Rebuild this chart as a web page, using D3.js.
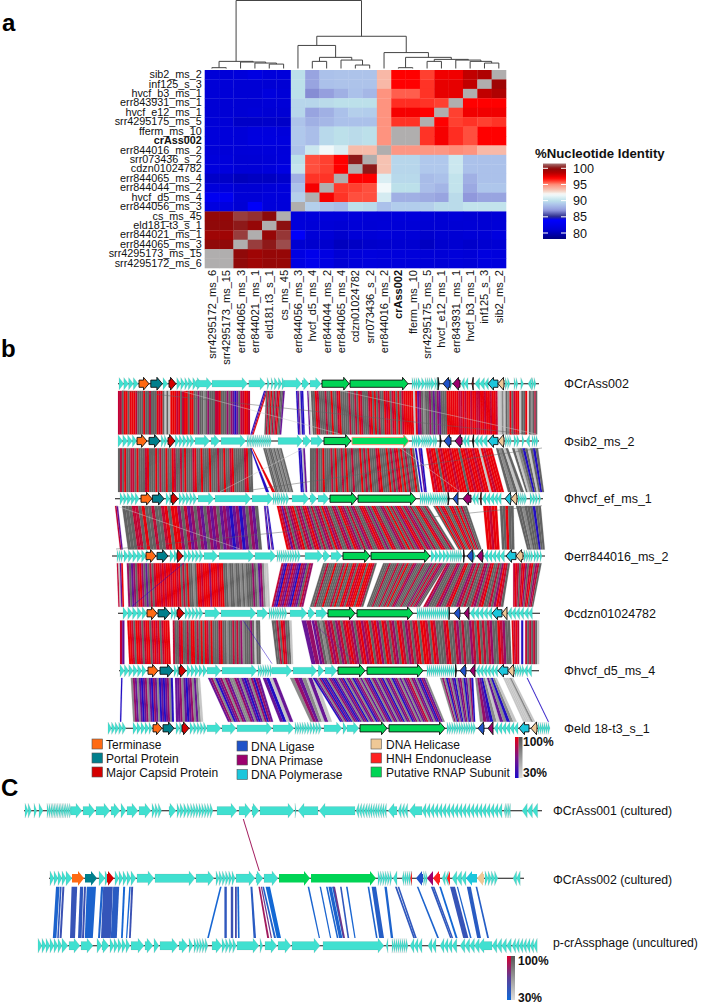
<!DOCTYPE html>
<html><head><meta charset="utf-8">
<script src="https://cdn.jsdelivr.net/npm/d3@7"></script>
<style>html,body{margin:0;padding:0;background:#fff}svg{display:block;font-family:"Liberation Sans",Arial,sans-serif}</style>
</head><body><svg id="c" width="709" height="1004"></svg>
<script>
// ---------- panel a data ----------
const rowLabels=["sib2_ms_2","inf125_s_3","hvcf_b3_ms_1","err843931_ms_1","hvcf_e12_ms_1","srr4295175_ms_5","fferm_ms_10","crAss002","err844016_ms_2","srr073436_s_2","cdzn01024782","err844065_ms_4","err844044_ms_2","hvcf_d5_ms_4","err844056_ms_3","cs_ms_45","eld181-t3_s_1","err844021_ms_1","err844065_ms_3","srr4295173_ms_15","srr4295172_ms_6"];
const colLabels=["srr4295172_ms_6","srr4295173_ms_15","err844065_ms_3","err844021_ms_1","eld181.t3_s_1","cs_ms_45","err844056_ms_3","hvcf_d5_ms_4","err844044_ms_2","err844065_ms_4","cdzn01024782","srr073436_s_2","err844016_ms_2","crAss002","fferm_ms_10","srr4295175_ms_5","hvcf_e12_ms_1","err843931_ms_1","hvcf_b3_ms_1","inf125_s_3","sib2_ms_2"];
const N=null;
const identity=[
[81.3,81.3,81.5,82,81.5,81.5, 90,87.5,88.7,88.8,88.8,88.8,93.7,97,97,96,97.3,97.3,98.3,98.8,N],
[81.2,81.2,81.1,81.1,81,81, 90,87.5,88.7,88.8,88.8,88.8,93.7,97,97,96.2,97.5,97.5,98.3,N,99.3],
[81.2,81.2,81.1,81.1,81.6,81.2, 90,86.8,87.3,88,88.7,88.3,94.8,95.6,95.6,96.2,97.5,97.5,N,98.3,98.8],
[81.1,81.1,81,81,81.2,81.2, 89.6,89.6,89.8,90,90,90,94.8,96.3,96.3,96.2,96,N,97,97,97],
[81.1,81.1,81,81.2,81,81, 89.6,87.5,88,88.7,89.3,89.2,94.8,97.2,97.2,97,N,96,97.3,97.3,97.3],
[81.2,81.2,80.6,80.6,80.7,80.6, 88.8,88,88.3,88.7,88.7,88.7,94.8,96.2,96.2,N,97,96,96.2,96,96.2],
[81.4,81.4,81.3,81.7,81.7,81.5, 89,88.6,89.7,90,89.8,90,94.8,N,N,96.2,97.2,96.3,95.8,97,97],
[81.4,81.4,81.3,81.8,81.8,81.7, 89,88.6,89.7,90,89.8,90,94.8,N,N,96.2,97.2,96.3,95.8,97,97],
[81.3,81.3,81.2,81.3,81.4,81.4, 88.8,90.5,91.8,91,93.6,93.6,N,94.7,94.7,94.7,94.7,95,94.8,93.7,93.7],
[81.5,81.5,81,81.1,81.2,81.5, 90,95.8,96,97,100.2,N,93.4,89.6,89.6,89,89,90.5,88.7,88.7,88.7],
[81.6,81.6,81.2,81.2,81.5,82, 90.3,95.8,96,97,N,100.2,93.4,89.6,89.6,89,89,90.5,88.7,88.7,88.7],
[80.6,80.6,80.2,80.4,80.4,80.7, 88,96.2,96.2,N,97,97,91,89.7,89.7,88.5,88.7,90.2,88,88.7,88.7],
[81.5,81.5,81,81,81.3,81.5, 88.7,97.2,N,96.1,96,95.8,91.8,90,90,88.6,88.2,90.2,87.7,88.9,88.9],
[83,83,81.2,81.2,81.5,81.5, 89.3,N,97.2,96.2,95.8,95.8,90.8,88,88,87.8,87.5,89.8,87,87.5,87.5],
[81.8,81.8,81,83.6,81.4,81.4, N,89.3,88.8,88.5,90,89.8,88.7,89.2,89.2,89.3,89.8,89.8,90.2,90.2,90.2],
[99.7,99.7,100.7,100.5,100,N, 81.4,81.5,81.5,81.4,81.4,81.3,81.2,81.5,81.5,81.2,81.1,81.3,81,81,81.2],
[99.8,99.8,100.2,99.6,N,100.1, 81.4,81.2,81.2,81,81.2,81.1,81.2,81.2,81.2,81,81,81,81.1,81,81.2],
[99.3,99.3,100.7,N,99.6,100.6, 83.5,81.2,81.2,80.8,81.2,81.2,81.4,81.3,81.3,80.8,81,81,81.2,81.2,81.8],
[99.8,99.8,N,100.7,100.2,100.9, 80.9,80.8,80.8,80.3,80.5,80.7,80.8,80.9,80.9,80.4,80.8,80.9,80.7,80.9,81],
[N,N,99.8,99.3,99.6,99.6, 82,82.6,82,81,81.4,81.6,81.5,81.5,81.5,81.2,81.2,81.4,81.2,81.8,81.6],
[N,N,99.8,99.3,99.6,99.6, 82,82.6,82,81,81.4,81.6,81.5,81.5,81.5,81.2,81.2,81.4,81.2,81.8,81.6]];
const identityStops=[78,81,84,85,87,89,90,92,93,95,96,97,98.5,100,101.5];
const identityColours=["#00007a","#0000d4","#0000ff","#2a2a8a","#9098dc","#b0c8ec","#bce0ea","#f8fcfc","#f4d0c0","#ff8c78","#ff4030","#ff0000","#b80000","#8a0a0a","#a87878"];
const legendTicks=[100,95,90,85,80];
// cluster tree: [height, left, right]; plain numbers are column indices
const dendrogram=[100,
 [10.5,[1.2,0,1],[9.5,2,[8,3,[6.5,4,5]]]],
 [47.4,
  [33.9,6,[16.4,[10.5,7,8],[12.4,9,[5.1,10,11]]]],
  [23.4,12,[16.4,[1.2,13,14],[13.4,[10.5,15,16],[12.4,17,[10.5,18,[8,19,20]]]]]]]];

// ---------- panel b data: positions in kb ----------
// gene runs: [start,[signed lengths]] (negative = reverse strand)
const trackNames=["ΦCrAss002","Φsib2_ms_2","Φhvcf_ef_ms_1","Φerr844016_ms_2","Φcdzn01024782","Φhvcf_d5_ms_4","Φeld 18-t3_s_1"];
const spines=[[29.5,134.75],[29.5,134.75],[28.75,135.75],[28,136.25],[29.5,135],[29.75,134.75],[27,137.5]];
const runs1=[[29.75,[1.2,1.2,1.2,1.2]],[40.75,[1.2]],[44.2,[1,1,.9,1.1,1.1,1.2]],[49,[4]],[53,[8.9]],[62.2,[4.2]],[66.8,[.6]],[67.8,[.6]],[68.6,[1,.9,.9]],[71,[4.4]],[75.5,[1.8]],[77.5,[2.8]],[103,[.5,.5,.5,.9,.9,.5,.5,.5,.9,.5,.5]],[112.5,[.5]],[115.2,[-.9,-.9]],[118.7,[-1.2,-1.2,-1]],[126.3,[.6,.6]],[128.5,[.5,.5]],[130.2,[.7]],[132,[-.9]],[133,[.5,.5]]];
const genes1=[[34.75,37.25,"T"],[37.7,40.6,"P"],[42.25,44,"M"],[80.5,87.3,"G"],[87.5,102,"G"],[109.5,109.8,"X"],[112.5,110.75,"L"],[115,113.25,"R"],[118.3,118,"H"],[124.5,122,"Y"],[126,124.5,"K"]];
const runs2=[[29.5,[1.2,1.2,1.2,1.1]],[40.3,[.8,.7]],[43.8,[1,.9,1,.9,1]],[48.75,[3.7]],[52.75,[2.2]],[55.25,[6.2]],[61.75,[.4,.4,.4,.4,.5,.5,.5,.5,.5,.5,.5,.5,.5]],[69.5,[6.2]],[75.75,[2]],[77.75,[3]],[103,[.5,.5,.5,.9,.5,.5,.5,.5,.9,.5,.5]],[115.7,[-.8,-.8]],[118.6,[-1,-1,-1.2]],[126.3,[.6,.5,.5]],[128.5,[.7,.7]],[130.5,[.6]],[131.5,[-.9]],[133,[.5,.5,.5]]];
const genes2=[[34.25,36.75,"T"],[37.25,40,"P"],[42,43.75,"M"],[81,87.75,"G"],[88,102.25,"S"],[110,110.3,"X"],[112.75,111,"L"],[115.5,113.75,"R"],[118.4,118.1,"X"],[124.5,122,"Y"],[126,124.5,"K"]];
const runs3=[[30,[.9,.9,1,1,1]],[41.5,[.9,.7]],[44.75,[.9,.9,.9,.9,.9]],[49.5,[4]],[53.75,[9]],[63,[5.25]],[68.25,[.5,.5,.4,.6,.6,.7,.7]],[73,[4.25]],[77.5,[1.75]],[79.5,[2.75]],[105,[.5,.5,.5,.5,.6,.6,.5,.5,.6,.6,.5,.5,.5]],[118,[-.8,-.8]],[120.5,[-1,-1,-1,-.9,-.9]],[129.5,[.6,.5,.5,.6]],[132.5,[.7,.7,.6]],[134.7,[.5]]];
const genes3=[[35.25,38,"T"],[38.1,41,"P"],[42.75,44.5,"M"],[82.5,89.25,"G"],[89.5,104,"G"],[112,112.3,"X"],[114.5,113.25,"L"],[117.75,115.75,"R"],[120.3,120,"H"],[127.75,126.25,"Y"],[129.25,127.75,"K"]];
const runs4=[[29.25,[.5,.5,.5]],[31,[1.1,1.1,1.1,1.1,1.2,1.2]],[42.5,[1,1]],[46,[1,1,.9,1,.9]],[51,[3.5]],[54.75,[8.75]],[63.75,[5.25]],[69.25,[.5,.5,.6,.5,.6,.6,.6,.6,.7,.7]],[76.25,[4.5]],[80.75,[1.75]],[82.75,[2.75]],[107.75,[1,1,1,.9,.9,.5,.5,.5,.5,.5,.5]],[118.3,[.6]],[121,[-1,-1,-1,-1,-1.1]],[131,[.6,.6,.5,.6]],[133.5,[.7,.7]],[135,[.5]]];
const genes4=[[36.5,39,"T"],[39.25,42,"P"],[44.25,45.75,"M"],[85.75,92.5,"G"],[92.75,107.5,"G"],[115.9,116.1,"X"],[118.25,116.75,"L"],[120.75,119.25,"R"],[129,126.5,"Y"],[130.75,129,"K"]];
const runs5=[[30.75,[1.2,1.2,1.2,1.2,1.2]],[42.75,[.8,.7]],[46.25,[.9,.9,.9,.9,.9]],[51.25,[3.75]],[55.25,[8.75]],[64.25,[2.75]],[67.25,[.5,.5,.6,.5,.6,.6,.6,.6]],[72.5,[4.25]],[77,[1.75]],[79,[2.75]],[104.25,[.5,.5,.5,.5,.5,.5,.5,.5,.5,.5,.5,.5,.5,.5,.5,.5]],[117.5,[-1.1,-1.1,-1.1,-1.1,-1.1]],[126.9,[-1,-1,-1,-1]],[131,[-1.1,-1]]];
const genes5=[[36.75,39.25,"T"],[39.5,42.5,"P"],[44.25,46,"M"],[82,88.75,"G"],[89.25,103.25,"G"],[112.25,112.4,"X"],[115,113.5,"L"],[117.25,116,"R"],[125.5,123,"Y"],[126.75,125.5,"K"]];
const runs6=[[30,[1.1,1.1,1.1,1.1,1.1,1.1]],[43.5,[.8,.8]],[46.75,[1,1,1,1,1]],[51.75,[3.5]],[55.5,[8.75]],[64.5,[.6,.6,.6,.6,.6,.6]],[68,[5]],[73.25,[6]],[79.5,[1.5]],[81.25,[3]],[106.75,[.5,.5,.5,.5,.5,.5,.5,.5,.5,.5,.5,.5,.5,.5]],[119,[-.9,-.9,-.9,-.9,-.9,-.9]],[128.75,[.6,.6,.6,.6]],[131,[-.9,-1]]];
const genes6=[[37,39.5,"T"],[40,43.25,"P"],[44.75,46.5,"M"],[84.5,91.25,"G"],[91.75,105.75,"G"],[113.9,114.1,"X"],[116.5,115,"L"],[118.75,117.5,"R"],[127,124.5,"Y"],[128.5,127,"K"]];
const runs7=[[27,[.9,.9,.9,.9,.9]],[33.25,[1,1,1,1,.8]],[44,[.9,.9]],[47.5,[.9,.9,.8,.8,.8]],[51.75,[3.5]],[55.5,[3.5]],[59.25,[8.75]],[68.25,[5.25]],[73.75,[.6,.6,.6,.6,.7,.7,.7,.7,.7,.7]],[81,[4.5]],[85.75,[1]],[86.75,[3]],[111.75,[.6,.6,.6,.6,.6,.6,.6,.6,.6,.6,.6,.6]],[123.5,[-1,-1,-1,-1,-1,-1]],[134.5,[.5,.5,.5,.5,.5,.5]]];
const genes7=[[38.25,40.5,"T"],[40.75,43.5,"P"],[45.5,47.25,"M"],[90,96.75,"G"],[97.25,111.25,"G"],[121,119.5,"L"],[123.25,122,"R"],[132.25,129.75,"Y"],[134.25,132.75,"K"]];
const allRuns=[runs1,runs2,runs3,runs4,runs5,runs6,runs7];
const allGenes=[genes1,genes2,genes3,genes4,genes5,genes6,genes7];

// links: [topStart,topEnd,bottomStart,bottomEnd,stripe levels]
const links12=[[29.5,62.5,29.5,62.5,"ddgrrgrrrdgggrggdgggrdrgigirrrdrgdrrgrrggmgghgmgggddrgggmgmpbpgddrrd"],[66,66.9,62.6,63.4,"bpr"],[66.5,71.2,66.1,70.3,"gdgrgdgdrggp"],[74,75.8,74.5,76.2,"bpibb"],[76.8,77.5,77.3,78,"pi"],[77.7,131.8,78.2,131.8,"ggrdgggdggrggdrggggdggdgrdgggdrgrgdggrdrgdrgrgdrrrrrirpmghggmgpgmpgggrrrrrrddrdrrdrrddrrdrrdrrdiihighrgdrriggr"],[132.2,134.3,132.2,134.3,"gghgdg"]];
const links23=[[29.5,63,29.5,63.3,"gdgrggddgrgggdrgggrgdggrggrdggdgrgggdrggrgggrgggdggrggdrgggggdrgg"],[62.6,63.2,66.5,68.8,"bwr"],[65.8,70.4,68.8,73.3,"gghgghghghg"],[74.6,76.2,75.2,76.8,"bbip"],[77.5,103.5,77.5,105,"gggdggrgggdgrggdgrggdgggrgdgrgggdrgggrgdgdrgrgdggrg"],[103.7,105.5,105.3,106.7,"bwpb"],[106.5,123,108.3,126,"rdrrgrdrrrdrrrgrrdrrdrrirdrrr"],[124,127,127,131,"ghgig"],[128,134.5,131.5,136,"gihgbgigbg"]];
const links34=[[28.75,29.5,30,30.7,"dp"],[30.5,64.5,32,65.5,"gggddgrggdggdrgrrmgdpmgmpgmpmgpmpbpmbpgmpg"],[66,67,67,68.5,"pbwpb"],[69.2,107,71.7,113.8,"rdpdgmdrgdmgdrmgdgmdgrmdggdmgrdmgdgmdggdrdgmgrdggmdgrgdgmrdgdmgdggrdggdg"],[108.3,116.7,114.6,120.4,"grgdrggrdgrgdgg"],[120.8,128.4,121.8,128.6,"rrdrrwggrgg"],[129,135.2,131.8,136.2,"gghgggbgg"]];
const links45=[[29.2,30.7,29.6,31,"dipr"],[31.7,67,32.1,67.5,"mgpmgdrmgpgdgdrrdrdrrdrrdrgdgrgghgrrdrrrmrrrdrrgghgghgghghgggmghpmhii"],[70.4,78.3,67.9,75.8,"dpbdmpdmpbdmpgdm"],[80.8,94.2,77.5,90.8,"ggdgggrgggdgrggrdgrdrrgrrdg"],[95.8,111.7,91.7,105,"gggdgggdggdgrggdmgggdgggmgdgdmgg"],[111.7,127.5,105.8,125.8,"dmgggdmggdrggmdgdggdmgdrggdgmrdg"],[128.3,135.4,128.3,133.3,"drdgdrmgdrgmdg"]];
const links56=[[30,31.1,30,31.1,"dp"],[31.8,42.3,32.3,42.7,"rrdgrrdgdrrgdrdrgdrrr"],[43.2,65,43.3,65.2,"dggdrggdgrrgdgrgrdgrgggdrgghggdgdgmhgggmgigg"],[67.9,72.9,69.2,73.3,"ggdgrdggi"],[75.4,77.7,77.9,79.9,"pm"],[77.9,127.5,80,127.9,"pmghgdmdgmdgdrdmgdrmdrgdrmgrdgdmgrdgmdgdrgrrdgrdgggdrggdmgdggmdgrgdgdmggrdmgg"],[127.9,129.8,128.2,129.8,"rdrd"],[130.3,130.8,130.3,130.8,"b"],[131.3,134.8,131.3,134.8,"dgdgdgi"]];
const links67=[[30.3,30.6,30,30.3,"b"],[32.7,43.2,33.3,43.5,"hmphpbpmhpbmphbpbpmhb"],[43.75,50,44,50.8,"ppmhpbpmhphi"],[52,65,57,68.3,"pmhbpmhmphhmphpbphmbmp"],[65.7,69,70,73.3,"pbip"],[72.5,77.5,77.6,81.2,"hmphi"],[77.1,79,81.2,83,"pi"],[78.2,106.7,85,111.2,"bphmbpbhmpbphpmbhpmhbpmhphmpbhmphpmbhpmhbpmhphpmdhmphpbmph"],[110,118.3,113.3,118.8,"hmhbmhpbhpmhbphmb"],[118.8,124.2,120,129.2,"hmpbhiphbhi"],[125.8,128.3,130.8,133.8,"iiiihi"],[131.7,131.9,137,137.2,"b"]];
const allLinks=[links12,links23,links34,links45,links56,links67];
// stray long links spanning a gap: [gap,topPos,bottomPos,level]
const strayLinks=[[0,30.5,131.5,"g"],[0,45,85,"i"],[0,85,134,"i"],[1,135.5,60,"g"],[1,76,55,"i"],[1,100,115,"i"],[2,135.5,29,"g"],[2,29,60,"i"],[3,46,33,"b"],[4,60.75,68,"b"],[4,77.5,89.25,"p"]];
const levelIdentity={r:100,d:88,m:74,p:58,b:33};
const levelGrey={g:"#636363",h:"#8a8a8a",i:"#c6c6c6"};

// ---------- panel c data ----------
const runsA=[[6.25,[.8,.8]],[8.5,[.7]],[9.75,[1]],[11.75,[.5,.5,.4,.4,.4,.4,.4,.4,.4,.4,.4,.5,.5,.6]],[17.75,[2.75]],[20.75,[3]],[24,[3.5]],[27.75,[2.25]],[30.25,[1.25]],[31.75,[2.75]],[34.75,[3]],[38,[.8,.8,.8]],[42.25,[1.75]],[44.25,[.8,.9,.9,.8,.7,.7,.7,.7,.7,.7,.7,.7]],[54.25,[5]],[59.75,[3]],[63,[1.75]],[65,[8.5]],[73.75,[.3]],[74.5,[-5]],[79.75,[-9]],[89,[-.7,-.7,-.7,-.7,-.6,-.6,-.6,-.6,-.6,-.6,-.6,-.6]],[97,[-2.25]],[99.5,[-.8,-.8,-.8]],[102.25,[-3.25]],[105.5,[-1,-1,-1,-1,-1,-1,-1,-1,-1,-1,-1,-1,-1,-1,-1,-1,-1,-1,-1,-1]],[126,[-.4,-.4,-.4,-.4]],[130.5,[-1.3,-1.3,-1.3]]];
const runsB=[[12.5,[1,1,1,1,1.5]],[24.75,[1.5,1]],[28.75,[1,1,1,1,1.25]],[34.25,[4.25]],[38.75,[10]],[49,[4.5]],[54,[.8,.8,.8,.8,.8,.8]],[59,[4.75]],[64,[1.75]],[66,[3.5]],[94.5,[.6,.6,.6,.6,.6,.5]],[98.25,[-1]],[100.5,[-.5,-.5,-.5,-.5,-.4]],[105.9,[.5,.5]],[110.5,[-.8,-.8]],[113,[-1.2,-1.2,-1.1]],[121.25,[.8,.8,.8,.8]],[128.25,[-.9,-.9]]];
const genesB=[[18,21,"T"],[21.25,24.25,"P"],[26.75,28.5,"M"],[69.75,77.5,"G"],[77.75,94,"G"],[103,102.6,"H"],[105.75,104,"L"],[108.25,106.75,"R"],[110,108.25,"H"],[112.5,111.75,"H"],[119.25,116.5,"Y"],[121,119.25,"K"]];
const runsC=[[9.5,[1,1,1,1,1,1,1.5]],[17.25,[2.75]],[20.25,[3]],[24.25,[1.25]],[25.5,[1.75]],[27.5,[1,1,1,1,1]],[32.75,[3.25]],[36.25,[2]],[38.5,[1.25]],[40,[4.5]],[44.75,[2.25]],[47.25,[1]],[48.5,[.7,.7,.7,.7,.7]],[53,[2.5]],[55.5,[.9,.9,.9,.9]],[59.25,[5.5]],[65,[.7]],[66.25,[3]],[69.5,[3.25]],[73,[7]],[80.75,[15.25]],[96.5,[-.5]],[98,[.5,.5,.5,.5,.5,.5,.5,.5]],[102.5,[-1,-1,-1]],[107,[-1,-1]],[110,[-1,-1,-1,-1.2]],[115,[-1.2,-1.2,-1.2,-1.2]],[119.5,[-3.5]],[123,[-1.2,-1.2,-1.2,-1.2]],[128,[-.9,-.9,-.9,-.9,-.9,-.9,-.9]]];
const linksBC=[[14,14.9,13.2,14.1,36],[15,15.4,14.3,14.7,45],[15.6,16.1,14.9,15.4,50],[17.9,19.3,17.5,18.75,48],[20,20.8,19.5,20.4,45],[21,21.5,20.5,21,50],[21.7,24,21.2,23.2,36],[25.25,25.8,24.5,25,36],[25.8,28.2,25.25,27.7,47],[28.3,29.8,27.7,29.2,42],[30.8,31.3,30.25,30.7,33],[32.3,32.7,31.5,31.8,33],[32.8,33.3,32.25,32.7,50],[55,55.4,51.8,52.2,33],[56.1,56.7,56.1,56.7,45],[57.7,58.3,57.7,58.3,50],[58.75,59.2,58.75,59.2,55],[59.3,59.75,59.5,59.9,33],[62.6,63.1,63.4,64,42],[64.6,65,66.8,67.3,85],[65.2,65.5,67.7,68,70],[65.6,66,68.5,69,38],[66.4,67.5,69.2,70.25,32],[76.9,77.3,79.7,80,35],[79.9,80.25,82.5,82.8,35],[81.5,81.9,84.2,84.6,35],[82.1,82.9,84.75,85.6,36],[83,83.5,85.7,86,33],[83.3,83.75,85.8,86.25,70],[85,85.4,86.9,87.3,45],[86.5,86.9,88.6,88.9,34],[91.9,92.3,94,94.4,36],[92.9,94,94.8,96,40],[96.1,96.7,97.7,98.3,36],[98.75,99.2,103.3,103.75,45],[99.4,99.8,103.75,104.2,45],[104.2,104.6,109.3,109.75,36],[107.7,108.2,112.5,112.9,45],[108.2,108.6,112.9,113.3,45],[109.8,110.25,113.9,114.4,32],[112.5,113.75,115.8,117.1,48],[114.2,114.5,117.5,117.9,36],[116.7,117.7,119.3,120.25,42],[118.9,119.3,121.8,122.25,40]];
const linkAB=[60.7,60.95,64.7,64.95,85];
const panelCNames=["ΦCrAss001 (cultured)","ΦCrAss002 (cultured)","p-crAssphage (uncultured)"];
const geneLegend=[["T","Terminase"],["P","Portal Protein"],["M","Major Capsid Protein"],["L","DNA Ligase"],["R","DNA Primase"],["Y","DNA Polymerase"],["K","DNA Helicase"],["H","HNH Endonuclease"],["G","Putative RNAP Subunit"]];
const geneColour={T:"#ff6a13",P:"#007f8c",M:"#d40000",L:"#1f52c8",R:"#9c006e",Y:"#1cc6dc",K:"#efc896",H:"#ff2020",G:"#00d455",S:"#00e060",X:"#111111"};

// ---------- drawing ----------
const svg=d3.select("#c");
const FONT_BLACK="#111";
const defs=svg.append("defs");
defs.append("filter").attr("id","soft").attr("x","-2%").attr("y","-2%").attr("width","104%").attr("height","104%")
  .append("feGaussianBlur").attr("stdDeviation",.35);
// panel a
const hx=d3.scaleBand().domain(colLabels).range([204.7,506]);
const hy=d3.scaleBand().domain(rowLabels).range([70,268]);
const heatColour=d3.scaleLinear().domain(identityStops).range(identityColours).clamp(true);
const heat=svg.append("g");
identity.forEach((row,r)=>row.forEach((v,c)=>{
  heat.append("rect").attr("x",hx(colLabels[c])).attr("y",hy(rowLabels[r]))
   .attr("width",hx.bandwidth()+.3).attr("height",hy.bandwidth()+.3)
   .attr("fill",v===null?"#b0aeae":heatColour(v));
}));
const ay=svg.append("g").attr("transform","translate(204,0)").call(d3.axisLeft(hy).tickSize(0).tickPadding(2.3));
ay.select(".domain").remove();
ay.selectAll("text").attr("font-size",10.8).attr("font-family","Liberation Sans").attr("fill",FONT_BLACK)
  .attr("font-weight",d=>d==="crAss002"?"bold":"normal");
const ax=svg.append("g").attr("transform","translate(0,268)").call(d3.axisBottom(hx).tickSize(0).tickPadding(0));
ax.select(".domain").remove();
ax.selectAll("text").attr("font-size",11).attr("font-family","Liberation Sans").attr("fill",FONT_BLACK)
  .attr("font-weight",d=>d==="crAss002"?"bold":"normal")
  .attr("text-anchor","end").attr("dy",0).attr("y",0)
  .attr("transform","translate(4,2) rotate(-90)");
// dendrogram
const dy=d3.scaleLinear().domain([0,100]).range([68.5,0.5]);
const dg=svg.append("g").attr("fill","none").attr("stroke","#444").attr("stroke-width",1);
function drawNode(n){
  if(typeof n==="number") return {x:hx(colLabels[n])+hx.bandwidth()/2,y:dy(0)};
  const a=drawNode(n[1]),b=drawNode(n[2]),y=dy(n[0]);
  dg.append("path").attr("d",d3.line()([[a.x,a.y],[a.x,y],[b.x,y],[b.x,b.y]]));
  return {x:(a.x+b.x)/2,y};
}
drawNode(dendrogram);
// heat legend
const ly=d3.scaleLinear().domain([100,80]).range([168.3,233]);
const hg=defs.append("linearGradient").attr("id","hg").attr("x1",0).attr("x2",0).attr("y1",0).attr("y2",1);
const topV=ly.invert(163.5),botV=ly.invert(239);
d3.range(0,41).forEach(i=>{const t=i/40;hg.append("stop").attr("offset",t).attr("stop-color",heatColour(topV+(botV-topV)*t));});
svg.append("rect").attr("x",543).attr("y",163.5).attr("width",23).attr("height",75.5).attr("fill","url(#hg)");
svg.append("text").text("%Nucleotide Identity").attr("x",535).attr("y",158).attr("font-size",13.2).attr("font-weight","bold").attr("fill",FONT_BLACK);
legendTicks.forEach(t=>{
  svg.append("path").attr("d",d3.line()([[543,ly(t)],[548,ly(t)]])).attr("stroke","#fff");
  svg.append("path").attr("d",d3.line()([[561,ly(t)],[566,ly(t)]])).attr("stroke","#fff");
  svg.append("text").text(t).attr("x",573).attr("y",ly(t)+4.5).attr("font-size",12.6).attr("fill",FONT_BLACK);
});
// genome scale
const gx=d3.scaleLinear().domain([0,177.25]).range([0,709]);
function arrow(x0,x1,rev,y,bh,hh,hl){
  const w=x1-x0;
  let pts;
  if(w<=hl) pts=[[x0,y-hh],[x1,y],[x0,y+hh]];
  else pts=[[x0,y-bh],[x1-hl,y-bh],[x1-hl,y-hh],[x1,y],[x1-hl,y+hh],[x1-hl,y+bh],[x0,y+bh]];
  if(rev) pts=pts.map(p=>[x0+x1-p[0],p[1]]);
  return d3.line()(pts)+"Z";
}
function drawRuns(g,runs,y,bh,hh,hl){
  runs.forEach(r=>{
    let pos=r[0];
    r[1].forEach(l=>{
      const a=Math.abs(l);
      g.append("path").attr("d",arrow(gx(pos),gx(pos+a),l<0,y,bh,hh,hl))
       .attr("fill","#40e0d0").attr("stroke","rgba(120,130,130,.35)").attr("stroke-width",.4);
      pos+=a;
    });
  });
}
function drawNamed(g,list,y,stroke,bh,hh,hl){
  list.forEach(d=>{
    const rev=d[1]<d[0],a=Math.min(d[0],d[1]),b=Math.max(d[0],d[1]);
    const st=d[2]==="S"?"#ff8a70":(stroke?"#111":"none");
    g.append("path").attr("d",arrow(gx(a),gx(b),rev,y,bh,hh,hl))
     .attr("fill",geneColour[d[2]]).attr("stroke",st).attr("stroke-width",stroke?.9:0);
  });
}
function spine(g,a,b,y){g.append("path").attr("d",d3.line()([[gx(a),y],[gx(b),y]])).attr("stroke","#111").attr("stroke-width",1.1);}
const trackY=[383.7,441,498.7,556,613.3,670.7,728.3];
const stripeColour=d3.scaleLinear().domain([30,65,100]).range(["#1a0ac8","#7a1488","#e80008"]);
function levelFill(c){return levelGrey[c]||stripeColour(levelIdentity[c]);}
const gl=svg.append("g").attr("filter","url(#soft)");
allLinks.forEach((ls,i)=>{
  const y0=trackY[i]+7.2,y1=trackY[i+1]-6.6;
  ls.forEach(b=>{
    const s=b[4],n=s.length;
    const t=d3.scaleLinear().domain([0,n]).range([gx(b[0]),gx(b[1])]);
    const u=d3.scaleLinear().domain([0,n]).range([gx(b[2]),gx(b[3])]);
    Array.from(s).forEach((c,k)=>{
      if(c==="w") return;
      gl.append("path").attr("d",d3.line()([[t(k),y0],[t(k+1),y0],[u(k+1),y1],[u(k),y1]])+"Z")
       .attr("fill",levelFill(c)).attr("stroke",levelFill(c)).attr("stroke-width",.15);
    });
  });
});
strayLinks.forEach(d=>{
  gl.append("path").attr("d",d3.line()([[gx(d[1]),trackY[d[0]]+7],[gx(d[2]),trackY[d[0]+1]-7]]))
   .attr("stroke",levelFill(d[3])).attr("stroke-width",.6).attr("fill","none").attr("opacity",.8);
});
trackNames.forEach((name,i)=>{
  const g=svg.append("g");
  spine(g,spines[i][0],spines[i][1],trackY[i]);
  drawRuns(g,allRuns[i],trackY[i],3.4,6.2,5.5);
  drawNamed(g,allGenes[i],trackY[i],true,3.6,6.4,5.5);
  svg.append("text").text(name).attr("x",564).attr("y",trackY[i]+4.5).attr("font-size",12.5).attr("fill",FONT_BLACK);
});
// gene legend
const legX=[92,237,371],legY=[[739,753,767],[741,755,769.5],[739,753,767]],legTx=[106,251,386];
geneLegend.forEach((d,i)=>{
  const c=Math.floor(i/3),r=i%3;
  svg.append("rect").attr("x",legX[c]).attr("y",legY[c][r]).attr("width",10.5).attr("height",10)
   .attr("fill",geneColour[d[0]]).attr("stroke","#555").attr("stroke-width",.6);
  svg.append("text").text(d[1]).attr("x",legTx[c]).attr("y",legY[c][r]+9.5).attr("font-size",12).attr("fill",FONT_BLACK);
});
function gradBar(id,x,y,w,h,range,labels,lx){
  const lg=defs.append("linearGradient").attr("id",id).attr("x1",0).attr("x2",0).attr("y1",0).attr("y2",1);
  range.forEach((c,i)=>lg.append("stop").attr("offset",i/(range.length-1)).attr("stop-color",c));
  const rg=defs.append("linearGradient").attr("id",id+"g").attr("x1",0).attr("x2",0).attr("y1",0).attr("y2",1);
  rg.append("stop").attr("offset",0).attr("stop-color","#555");rg.append("stop").attr("offset",1).attr("stop-color","#ddd");
  svg.append("rect").attr("x",x).attr("y",y).attr("width",w/2).attr("height",h).attr("fill",`url(#${id})`);
  svg.append("rect").attr("x",x+w/2).attr("y",y).attr("width",w/2).attr("height",h).attr("fill",`url(#${id}g)`);
  labels.forEach(l=>svg.append("text").text(l[0]).attr("x",lx).attr("y",l[1]).attr("font-size",12).attr("font-weight","bold").attr("fill",FONT_BLACK));
}
gradBar("lb",515,737,7.5,41,["#e80010","#7a1488","#1a0ac8"],[["100%",746],["30%",777]],523);
// panel c
const cy=[810.7,878.3,945.7];
const stripeC=d3.scaleLinear().domain([30,65,100]).range(["#0f6ad8","#5b3f98","#d80030"]);
const gc=svg.append("g");
linksBC.forEach(d=>{
  gc.append("path").attr("d",d3.line()([[gx(d[0]),886.7],[gx(d[1]),886.7],[gx(d[3]),938],[gx(d[2]),938]])+"Z").attr("fill",stripeC(d[4]));
});
gc.append("path").attr("d",d3.line()([[gx(linkAB[0]),819],[gx(linkAB[1]),819],[gx(linkAB[3]),871],[gx(linkAB[2]),871]])+"Z").attr("fill",stripeC(linkAB[4]));
const cA=svg.append("g");spine(cA,6,135.5,cy[0]);drawRuns(cA,runsA,cy[0],4.2,7.4,6);
const cB=svg.append("g");spine(cB,12.25,131,cy[1]);drawRuns(cB,runsB,cy[1],4.2,7.4,6);drawNamed(cB,genesB,cy[1],false,4.2,7.4,6);
const cC=svg.append("g");spine(cC,9.5,133.75,cy[2]);drawRuns(cC,runsC,cy[2],4.2,7.4,6);
panelCNames.forEach((n,i)=>svg.append("text").text(n).attr("x",553).attr("y",[815,884,947][i]).attr("font-size",12.3).attr("fill",FONT_BLACK));
gradBar("lc",507,956,8,44,["#d80030","#5b3f98","#0f6ad8"],[["100%",965],["30%",1002]],518);
// panel letters
[["a",2,31,24],["b",1,357,24],["C",1,796,24]].forEach(d=>svg.append("text").text(d[0]).attr("x",d[1]).attr("y",d[2]).attr("font-size",d[3]).attr("font-weight","bold").attr("fill","#000"));
</script></body></html>
